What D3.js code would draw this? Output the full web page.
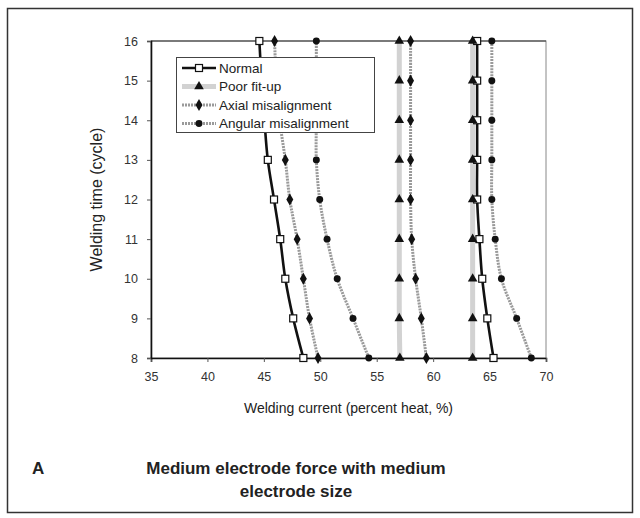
<!DOCTYPE html>
<html>
<head>
<meta charset="utf-8">
<script src="https://cdn.jsdelivr.net/npm/d3@7"></script>
<style>
  html, body { margin: 0; padding: 0; background: #fff; }
  svg { display: block; font-family: "Liberation Sans", Arial, sans-serif; }
</style>
</head>
<body>
<svg id="chart" width="640" height="518"></svg>
<script>
// Welding time (cycles) on the y axis
const cycles = [8, 9, 10, 11, 12, 13, 14, 15, 16];

// Welding current (percent heat) at the lower and upper lobe boundaries
const normalLow    = [48.5, 47.6, 46.9, 46.45, 45.9, 45.35, 45.05, 44.8, 44.6];
const normalHigh   = [65.35, 64.8, 64.35, 64.1, 63.9, 63.9, 63.9, 63.9, 63.9];
const poorLow      = [57.05, 57.0, 57.0, 57.0, 57.0, 57.0, 57.0, 57.0, 57.0];
const poorHigh     = [63.5, 63.5, 63.5, 63.5, 63.5, 63.5, 63.5, 63.5, 63.5];
const axialLow     = [49.8, 49.05, 48.5, 47.95, 47.3, 46.9, 46.4, 46.1, 45.95];
const axialHigh    = [59.4, 58.95, 58.45, 58.1, 58.0, 58.0, 58.0, 58.0, 58.0];
const angularLow   = [54.3, 52.9, 51.5, 50.6, 49.95, 49.65, 49.65, 49.65, 49.65];
const angularHigh  = [68.7, 67.4, 66.05, 65.5, 65.2, 65.2, 65.2, 65.2, 65.2];

const seriesNames = ["Normal", "Poor fit-up", "Axial misalignment", "Angular misalignment"];
const xTicks = [35, 40, 45, 50, 55, 60, 65, 70];
const yTicks = [8, 9, 10, 11, 12, 13, 14, 15, 16];

const series = [
  { name: seriesNames[0], curves: [normalLow, normalHigh], color: "#111", width: 2.6, dash: null, marker: "square" },
  { name: seriesNames[1], curves: [poorLow, poorHigh], color: "#d2d2d2", width: 5, dash: null, marker: "triangle" },
  { name: seriesNames[2], curves: [axialLow, axialHigh], color: "#9a9a9a", width: 3, dash: "2 1", marker: "diamond" },
  { name: seriesNames[3], curves: [angularLow, angularHigh], color: "#9a9a9a", width: 3, dash: "2 1", marker: "circle" }
];

const svg = d3.select("#chart");

// outer frame
svg.append("rect")
  .attr("x", 7.5).attr("y", 8.5).attr("width", 625).attr("height", 504)
  .attr("fill", "none").attr("stroke", "#333").attr("stroke-width", 1.5);

const plot = { left: 151, right: 546, top: 41, bottom: 358 };

const x = d3.scaleLinear().domain([35, 70]).range([plot.left, plot.right]);
const y = d3.scaleLinear().domain([8, 16]).range([plot.bottom, plot.top]);

// plot area border
svg.append("rect")
  .attr("x", plot.left).attr("y", plot.top)
  .attr("width", plot.right - plot.left).attr("height", plot.bottom - plot.top)
  .attr("fill", "none").attr("stroke", "#888").attr("stroke-width", 1);
svg.append("line")
  .attr("x1", plot.left).attr("x2", plot.right)
  .attr("y1", plot.top).attr("y2", plot.top)
  .attr("stroke", "#333").attr("stroke-width", 1.2);

// axes
const xAxis = svg.append("g")
  .attr("transform", `translate(0,${plot.bottom})`)
  .call(d3.axisBottom(x).tickValues(xTicks).tickSize(4).tickPadding(10));
const yAxis = svg.append("g")
  .attr("transform", `translate(${plot.left},0)`)
  .call(d3.axisLeft(y).tickValues(yTicks).tickSize(4).tickPadding(9));

[xAxis, yAxis].forEach(g => {
  g.select(".domain").attr("stroke", "#111").attr("stroke-width", 1.6);
  g.selectAll(".tick line").attr("stroke", "#555");
  g.selectAll(".tick text")
    .attr("fill", "#333")
    .style("font-size", "12.5px")
    .style("font-family", "'Liberation Sans', Arial, sans-serif");
});

// axis titles
svg.append("text")
  .attr("x", (plot.left + plot.right) / 2).attr("y", 413)
  .attr("text-anchor", "middle")
  .attr("fill", "#222")
  .style("font-size", "14px")
  .text("Welding current (percent heat, %)");

svg.append("text")
  .attr("transform", `translate(102,${(plot.top + plot.bottom) / 2}) rotate(-90)`)
  .attr("text-anchor", "middle")
  .attr("fill", "#222")
  .style("font-size", "16px")
  .text("Welding time (cycle)");

// marker drawing
function drawMarker(g, type, cx, cy) {
  if (type === "square") {
    g.append("rect").attr("x", cx - 3.5).attr("y", cy - 3.5)
      .attr("width", 7).attr("height", 7)
      .attr("fill", "#fff").attr("stroke", "#111").attr("stroke-width", 1.2);
  } else {
    const sym = { triangle: d3.symbolTriangle, diamond: d3.symbolDiamond, circle: d3.symbolCircle }[type];
    const size = { triangle: 40, diamond: 42, circle: 38 }[type];
    g.append("path")
      .attr("transform", `translate(${cx},${cy})`)
      .attr("d", d3.symbol(sym, size)())
      .attr("fill", "#111");
  }
}

const line = d3.line()
  .x(d => x(d[0]))
  .y(d => y(d[1]))
  .curve(d3.curveCatmullRom.alpha(0.5));

const linesG = svg.append("g");
const markersG = svg.append("g");

series.forEach(s => {
  s.curves.forEach(vals => {
    const pts = vals.map((v, i) => [v, cycles[i]]);
    linesG.append("path")
      .attr("d", line(pts))
      .attr("fill", "none")
      .attr("stroke", s.color)
      .attr("stroke-width", s.width)
      .attr("stroke-dasharray", s.dash);
  });
});
series.forEach(s => {
  s.curves.forEach(vals => {
    vals.forEach((v, i) => drawMarker(markersG, s.marker, x(v), y(cycles[i])));
  });
});

// legend
const legend = svg.append("g");
const lg = { x: 176, y: 57, w: 198, h: 75 };
legend.append("rect")
  .attr("x", lg.x + 0.5).attr("y", lg.y + 0.5).attr("width", lg.w).attr("height", lg.h)
  .attr("fill", "#fff").attr("stroke", "#444").attr("stroke-width", 1);

series.forEach((s, i) => {
  const cy = lg.y + 11 + i * 18.5;
  legend.append("line")
    .attr("x1", lg.x + 6).attr("x2", lg.x + 40)
    .attr("y1", cy).attr("y2", cy)
    .attr("stroke", s.color).attr("stroke-width", s.width)
    .attr("stroke-dasharray", s.dash);
  drawMarker(legend, s.marker, lg.x + 23, cy);
  legend.append("text")
    .attr("x", lg.x + 43).attr("y", cy)
    .attr("dy", "0.36em")
    .attr("fill", "#222")
    .style("font-size", "13.5px")
    .text(s.name);
});

// caption
svg.append("text")
  .attr("x", 32).attr("y", 474)
  .attr("fill", "#222")
  .style("font-size", "17px").style("font-weight", "bold")
  .text("A");

const caption = svg.append("text")
  .attr("text-anchor", "middle")
  .attr("fill", "#222")
  .style("font-size", "17px").style("font-weight", "bold");
caption.append("tspan").attr("x", 296).attr("y", 474).text("Medium electrode force with medium");
caption.append("tspan").attr("x", 296).attr("y", 497).text("electrode size");
</script>
</body>
</html>
